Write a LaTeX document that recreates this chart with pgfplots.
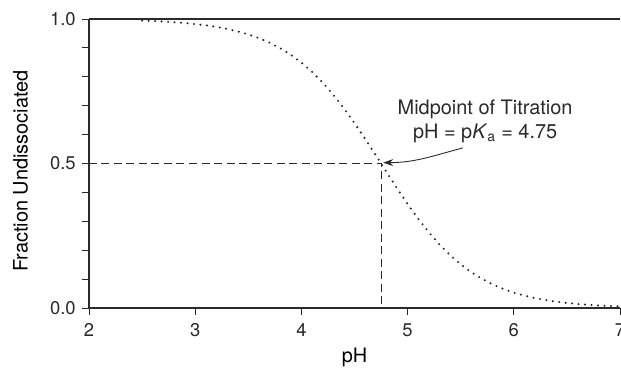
\documentclass[border=0pt]{standalone}
\usepackage{fontspec}
\setmainfont{TeX Gyre Heros}
\usepackage{pgfplots}
\pgfplotsset{compat=1.18}
\usetikzlibrary{arrows.meta}
\definecolor{ink}{HTML}{2A2A2A}
\begin{document}
\fontsize{20}{24}\selectfont
\begin{tikzpicture}
\begin{axis}[
  scale only axis, width=531bp, height=289bp,
  xmin=2, xmax=7, ymin=0, ymax=1,
  axis lines=left,
  axis line style={-, line width=1.1bp, ink},
  xtick={2,3,4,5,6,7}, ytick={0,0.5,1},
  minor ytick={0.1,0.2,0.3,0.4,0.6,0.7,0.8,0.9},
  tick align=outside, major tick length=6.5bp, minor tick length=6.5bp,
  tick style={ink, line width=0.9bp},
  yticklabel style={/pgf/number format/.cd, fixed, fixed zerofill, precision=1},
  xticklabel style={yshift=-2.5bp},
  /pgf/number format/assume math mode=true,
  ticklabel style={font=\fontsize{18.5}{22}\selectfont, text=ink},
  label style={font=\fontsize{21}{25}\selectfont, text=ink},
  xlabel={pH}, ylabel={Fraction Undissociated},
  every axis x label/.style={at={(axis description cs:0.5,-0.172)}, anchor=center},
  every axis y label/.style={at={(axis description cs:-0.129,0.474)}, rotate=90, anchor=center},
  clip=false,
]
\coordinate (O) at (rel axis cs:0,0);
\addplot[ink, line width=1.1bp] coordinates {(2,1) (7,1)};
\addplot[ink, line width=1bp, dash pattern=on 8bp off 4.5bp] coordinates {(2,0.5) (4.75,0.5) (4.75,0)};
\addplot[ink, line width=2.3bp, line cap=round, dash pattern=on 0bp off 6.5bp] coordinates {
(2.5,0.99441) (2.6,0.99297) (2.7,0.99117) (2.8,0.98890) (2.9,0.98607)
(3.0,0.98253) (3.1,0.97810) (3.2,0.97259) (3.3,0.96573) (3.4,0.95724)
(3.5,0.94676) (3.6,0.93389) (3.7,0.91817) (3.8,0.89912) (3.9,0.87622)
(4.0,0.84902) (4.1,0.81708) (4.2,0.78013) (4.3,0.73811) (4.4,0.69124)
(4.5,0.64007) (4.6,0.58550) (4.7,0.52875) (4.75,0.5) (4.8,0.47125)
(4.9,0.41450) (5.0,0.35993) (5.1,0.30876) (5.2,0.26189) (5.3,0.21987)
(5.4,0.18292) (5.5,0.15098) (5.6,0.12378) (5.7,0.10088) (5.8,0.08183)
(5.9,0.06611) (6.0,0.05324) (6.1,0.04276) (6.2,0.03427) (6.3,0.02741)
(6.4,0.02190) (6.5,0.01747) (6.6,0.01393) (6.7,0.01110) (6.8,0.00883)
(6.9,0.00703) (7.0,0.00559)};
\node[align=center, text=ink, inner sep=0pt, font=\fontsize{20}{24}\selectfont] at (axis cs:5.73,0.645) {Midpoint of Titration\\ pH = p\textit{K}\textsubscript{a} = 4.75};
\draw[ink, line width=0.9bp, -{Stealth[length=10bp, width=7bp]}] (axis cs:5.52,0.554) to[out=195, in=0] (axis cs:4.77,0.503);
\end{axis}
\pgfresetboundingbox
\useasboundingbox (O) ++(-89bp,-67bp) rectangle ++(621bp,375bp);
\end{tikzpicture}
\end{document}
